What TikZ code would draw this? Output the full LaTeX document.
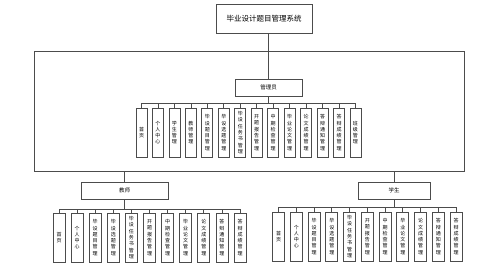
\documentclass[tikz,border=0pt]{standalone}
\usepackage{fontspec}
\setmainfont{Noto Sans CJK SC}
\begin{document}
\begin{tikzpicture}[x=1pt,y=-1pt,
  ln/.style={draw=black!70, line width=0.75pt},
  topbox/.style={ln, fill=white, minimum width=96pt, minimum height=29pt, inner sep=0pt, font=\fontsize{7.5pt}{9pt}\selectfont},
  rolebox/.style={ln, fill=white, minimum height=17pt, inner sep=0pt, font=\fontsize{5.5pt}{7pt}\selectfont},
  leaf/.style={ln, fill=white, minimum height=49pt, inner sep=0pt, align=center, font=\fontsize{5pt}{6.3pt}\selectfont}]
\useasboundingbox (0,0) rectangle (500,269);
\fill[white] (0,0) rectangle (500,269);
% top
\node[topbox] (title) at (264,19) {毕业设计题目管理系统};
\node[rolebox, minimum width=67pt] (admin) at (268.5,87.5) {管理员};
\node[rolebox, minimum width=87pt] (teacher) at (124.5,190.5) {教师};
\node[rolebox, minimum width=72pt] (student) at (394,190.5) {学生};
% frame
\coordinate (tl) at (34,51);
\coordinate (br) at (464,171);
\draw[ln] (tl) rectangle (br);
\draw[ln] (admin.north |- title.south) -- (admin.north);
\draw[ln] (teacher.north |- br) -- (teacher.north);
\draw[ln] (student.north |- br) -- (student.north);
% admin children
\foreach \t [count=\i from 0] in {{首\\页},{个\\人\\中\\心},{学\\生\\管\\理},{教\\师\\管\\理},{毕\\设\\题\\目\\管\\理},{毕\\设\\选\\题\\管\\理},{毕\\设\\任\\务\\书\\管\\理},{开\\题\\报\\告\\管\\理},{中\\期\\检\\查\\管\\理},{毕\\业\\论\\文\\管\\理},{论\\文\\成\\绩\\管\\理},{答\\辩\\通\\知\\管\\理},{答\\辩\\成\\绩\\管\\理},{班\\级\\管\\理}}{
  \node[leaf, minimum width=11pt] (a\i) at ({141.5+16.46*\i},132.5) {\t};
  \coordinate (ab\i) at ({141.5+16.46*\i},103);
  \draw[ln] (ab\i) -- (a\i.north);
}
\draw[ln] (admin.south) -- (admin.south |- ab0);
\draw[ln] (ab0) -- (ab13);
% teacher children
\foreach \t [count=\i from 0] in {{首\\页},{个\\人\\中\\心},{毕\\设\\题\\目\\管\\理},{毕\\设\\选\\题\\管\\理},{毕\\设\\任\\务\\书\\管\\理},{开\\题\\报\\告\\管\\理},{中\\期\\检\\查\\管\\理},{毕\\业\\论\\文\\管\\理},{论\\文\\成\\绩\\管\\理},{答\\辩\\通\\知\\管\\理},{答\\辩\\成\\绩\\管\\理}}{
  \node[leaf, minimum width=12pt] (t\i) at ({59+18.1*\i},237.5) {\t};
  \coordinate (tb\i) at ({59+18.1*\i},209);
  \draw[ln] (tb\i) -- (t\i.north);
}
\draw[ln] (teacher.south) -- (teacher.south |- tb0);
\draw[ln] (tb0) -- (tb10);
% student children
\foreach \t [count=\i from 0] in {{首\\页},{个\\人\\中\\心},{毕\\设\\题\\目\\管\\理},{毕\\设\\选\\题\\管\\理},{毕\\设\\任\\务\\书\\管\\理},{开\\题\\报\\告\\管\\理},{中\\期\\检\\查\\管\\理},{毕\\业\\论\\文\\管\\理},{论\\文\\成\\绩\\管\\理},{答\\辩\\通\\知\\管\\理},{答\\辩\\成\\绩\\管\\理}}{
  \node[leaf, minimum width=12pt] (s\i) at ({278.5+17.75*\i},236.5) {\t};
  \coordinate (sb\i) at ({278.5+17.75*\i},207);
  \draw[ln] (sb\i) -- (s\i.north);
}
\draw[ln] (student.south) -- (student.south |- sb0);
\draw[ln] (sb0) -- (sb10);
\end{tikzpicture}
\end{document}
